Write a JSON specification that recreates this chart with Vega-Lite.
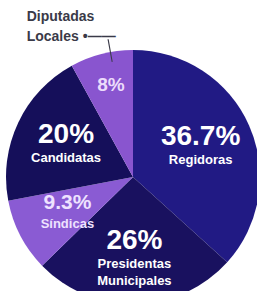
{
  "$schema": "https://vega.github.io/schema/vega-lite/v6.json",
  "width": 248,
  "height": 228,
  "autosize": {"type": "none"},
  "padding": {"left": 9, "top": 63, "right": 0, "bottom": 0},
  "background": "#ffffff",
  "view": {"stroke": null},
  "data": {"values": [
    {"categoria": "Regidoras", "nombre": "Regidoras", "valor": 36.7, "orden": 1},
    {"categoria": "Presidentas Municipales", "nombre": "Presidentas\nMunicipales", "valor": 26, "orden": 2},
    {"categoria": "Síndicas", "nombre": "Síndicas", "valor": 9.3, "orden": 3},
    {"categoria": "Candidatas", "nombre": "Candidatas", "valor": 20, "orden": 4},
    {"categoria": "Diputadas Locales", "nombre": "Diputadas\nLocales", "valor": 8, "orden": 5}
  ]},
  "layer": [
    {
      "mark": {"type": "arc", "outerRadius": 127},
      "encoding": {
        "theta": {"field": "valor", "type": "quantitative", "stack": true},
        "order": {"field": "orden", "type": "quantitative", "sort": "ascending"},
        "color": {
          "field": "categoria", "type": "nominal", "legend": null,
          "scale": {
            "domain": ["Regidoras", "Presidentas Municipales", "Síndicas", "Candidatas", "Diputadas Locales"],
            "range": ["#211a84", "#19115f", "#8a5bd3", "#150f5a", "#8955cf"]
          }
        }
      }
    },
    {
      "transform": [{"calculate": "datum.orden == 5 ? '' : format(datum.valor, '.1~f') + '%'", "as": "t"}],
      "mark": {"type": "text", "radius": 74, "baseline": "alphabetic", "align": "center", "dy": -2, "font": "Liberation Sans", "fontWeight": "bold"},
      "encoding": {
        "theta": {"field": "valor", "type": "quantitative", "stack": true},
        "order": {"field": "orden", "type": "quantitative", "sort": "ascending"},
        "text": {"field": "t", "type": "nominal"},
        "size": {"field": "valor", "type": "quantitative", "legend": null, "scale": {"domain": [9.3, 20], "range": [21, 28], "clamp": true}},
        "color": {"condition": {"test": "datum.valor < 10", "value": "#eee2ff"}, "value": "#ffffff"}
      }
    },
    {
      "transform": [{"calculate": "datum.orden == 5 ? '' : datum.nombre", "as": "t"}],
      "mark": {"type": "text", "radius": 74, "baseline": "top", "align": "center", "dy": 7, "fontSize": 13, "lineHeight": 17, "lineBreak": "\n", "font": "Liberation Sans", "fontWeight": "bold"},
      "encoding": {
        "theta": {"field": "valor", "type": "quantitative", "stack": true},
        "order": {"field": "orden", "type": "quantitative", "sort": "ascending"},
        "text": {"field": "t", "type": "nominal"},
        "color": {"condition": {"test": "datum.valor < 10", "value": "#eee2ff"}, "value": "#ffffff"}
      }
    },
    {
      "transform": [{"calculate": "datum.orden == 5 ? format(datum.valor, '.1~f') + '%' : ''", "as": "t"}],
      "mark": {"type": "text", "radius": 89, "baseline": "alphabetic", "align": "center", "fontSize": 19, "font": "Liberation Sans", "fontWeight": "bold", "color": "#ecdcfb"},
      "encoding": {
        "theta": {"field": "valor", "type": "quantitative", "stack": true},
        "order": {"field": "orden", "type": "quantitative", "sort": "ascending"},
        "text": {"field": "t", "type": "nominal"}
      }
    },
    {
      "transform": [{"calculate": "datum.orden == 5 ? datum.nombre + ' •——' : ''", "as": "t"}],
      "mark": {"type": "text", "radius": 150, "baseline": "top", "align": "left", "dx": -69, "dy": -22, "fontSize": 14, "lineHeight": 20, "lineBreak": "\n", "font": "Liberation Sans", "fontWeight": "bold", "color": "#3a3a48"},
      "encoding": {
        "theta": {"field": "valor", "type": "quantitative", "stack": true},
        "order": {"field": "orden", "type": "quantitative", "sort": "ascending"},
        "text": {"field": "t", "type": "nominal"}
      }
    },
    {
      "data": {"values": [{"conector": "Diputadas Locales"}]},
      "mark": {"type": "arc", "theta": 6.1000, "theta2": 6.1087, "radius": 140, "radius2": 117, "color": "#3a3a48"},
      "encoding": {}
    }
  ]
}
